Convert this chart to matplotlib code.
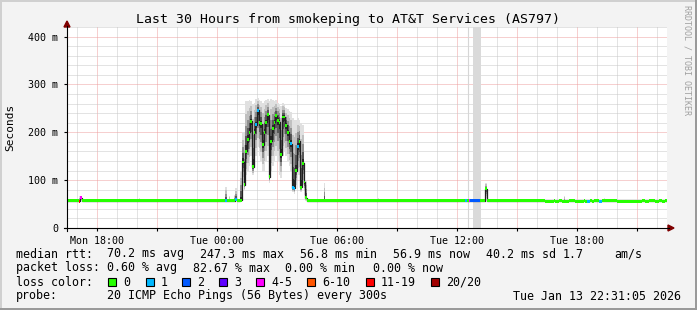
import numpy as np
import matplotlib.pyplot as plt
from matplotlib.patches import Rectangle, Polygon
from matplotlib.lines import Line2D

# hours counted from Mon 00:00, one sample every 300 s
T_START = 16.52
T_END = 46.52
STEP = 5 / 60

base_rtt = 57.0  # ms, quiet median

# congestion burst starting Tue 01:10 (one value per 5 min step)
burst_start = 25.17
burst_median = [58, 138, 90, 160, 185, 200, 223, 128, 200, 216,
                246, 221, 218, 174, 200, 221, 237, 107, 181, 208,
                221, 235, 225, 221, 153, 232, 232, 215, 200, 181,
                176, 84, 83, 120, 171, 181, 85, 135, 96, 63]
burst_lo = [56, 95, 80, 110, 120, 130, 150, 110, 140, 150,
            170, 150, 140, 120, 120, 140, 150, 95, 120, 130,
            140, 150, 140, 110, 105, 150, 160, 150, 140, 130,
            120, 75, 72, 90, 110, 110, 75, 90, 70, 57]
burst_hi = [120, 200, 200, 265, 265, 268, 265, 260, 262, 270,
            272, 268, 265, 262, 265, 268, 270, 265, 270, 268,
            265, 268, 262, 258, 255, 262, 260, 250, 248, 245,
            243, 230, 225, 225, 230, 225, 220, 215, 140, 100]
burst_loss = [0, 0, 0, 0, 0, 0, 0, 0, 0, 1,
              1, 0, 0, 0, 0, 0, 0, 0, 0, 0,
              0, 0, 0, 0, 0, 0, 0, 0, 0, 0,
              1, 1, 1, 0, 1, 0, 0, 0, 0, 0]

# isolated samples with loss or a raised median
event_hour = [17.12, 17.20, 24.42, 24.97, 36.47, 36.62, 36.72, 36.80,
              36.88, 36.97, 37.05, 37.13, 37.42]
event_median = [56, 63, 57, 60, 57, 57, 57, 57, 57, 57, 57, 57, 82]
event_lo = [56, 58, 57, 57, 57, 57, 57, 57, 57, 57, 57, 57, 62]
event_hi = [66, 66, 86, 83, 57, 57, 57, 57, 57, 57, 57, 57, 94]
event_loss = [6, 4, 1, 1, 1, 4, 2, 2, 2, 2, 2, 2, 0]

# light smoke ticks on the quiet baseline
tick_hour = [20.12, 21.27, 22.97, 24.57, 24.87, 29.32, 32.0, 33.62, 41.32, 43.37]
tick_hi = [62, 61, 60, 66, 70, 93, 62, 60, 67, 62]

# Tue afternoon/evening: median one notch lower
dip_from = [40.47, 40.97, 41.27, 41.97, 42.42, 42.52, 42.77, 43.07, 44.02, 45.42, 45.92, 46.27]
dip_to = [40.82, 41.07, 41.57, 42.32, 42.52, 42.72, 42.87, 43.27, 45.27, 45.57, 46.07, 46.47]
dip_loss = [0, 0, 0, 0, 0, 1, 0, 1, 0, 0, 0, 0]
dip_rtt = 55.5

loss_labels = ['0', '1', '2', '3', '4-5', '6-10', '11-19', '20/20']
loss_colors = ['#26ff00', '#00b8ff', '#0059ff', '#5e00ff', '#ff00ff', '#ff5500', '#ff0000', '#a10000']

y_ticks = [0, 100, 200, 300, 400]
y_labels = ['0', '100 m', '200 m', '300 m', '400 m']
x_ticks = [18, 21, 24, 27, 30, 33, 36, 39, 42, 45]
x_labels = ['Mon 18:00', '', 'Tue 00:00', '', 'Tue 06:00', '', 'Tue 12:00', '', 'Tue 18:00', '']

# ---- assemble the 5-minute series ----
n = int(round((T_END - T_START) / STEP))
t = T_START + np.arange(n) * STEP
med = np.full(n, base_rtt)
lo = np.full(n, base_rtt)
hi = np.full(n, base_rtt)
loss = np.zeros(n, dtype=int)

def idx(h):
    return int(round((h - T_START) / STEP))

for a, b, l in zip(dip_from, dip_to, dip_loss):
    med[idx(a):idx(b)] = dip_rtt if l == 0 else 56
    loss[idx(a):idx(b)] = l
for h, v in zip(tick_hour, tick_hi):
    hi[idx(h)] = v
for h, m, a, b, l in zip(event_hour, event_median, event_lo, event_hi, event_loss):
    i = idx(h)
    med[i], lo[i], hi[i], loss[i] = m, a, b, l
i0 = idx(burst_start)
for k in range(len(burst_median)):
    med[i0 + k] = burst_median[k]
    lo[i0 + k] = burst_lo[k]
    hi[i0 + k] = burst_hi[k]
    loss[i0 + k] = burst_loss[k]


def fx(px):
    return px / 697

def fy(py):
    return 1 - py / 310


mono = 'DejaVu Sans Mono'
fig = plt.figure(figsize=(6.97, 3.10), dpi=100, facecolor='#f3f3f3')

# 3d-ish frame
fig.patches.append(Rectangle((0, fy(2)), 1, 2 / 310, transform=fig.transFigure, color='#d0d0d0', lw=0))
fig.patches.append(Rectangle((0, 0), 2 / 697, 1, transform=fig.transFigure, color='#d0d0d0', lw=0))
fig.patches.append(Rectangle((0, 0), 1, 2 / 310, transform=fig.transFigure, color='#9a9a9a', lw=0))
fig.patches.append(Rectangle((fx(695), 0), 2 / 697, 1, transform=fig.transFigure, color='#9a9a9a', lw=0))

ax = fig.add_axes([fx(67), fy(228), 600 / 697, 201 / 310])
ax.set_facecolor('white')
ax.set_xlim(T_START, T_END)
ax.set_ylim(0, 420)
for s in ax.spines.values():
    s.set_visible(False)

# grid
hours = np.arange(17, 47)
minor_h = [h for h in hours if h % 3]
major_h = [h for h in hours if h % 3 == 0]
ax.vlines(minor_h, 0, 420, colors='#c8c8c8', linestyles=(0, (1, 1)), lw=0.72, zorder=1)
ax.vlines(major_h, 0, 420, colors='#eea0a0', linestyles=(0, (1, 1)), lw=0.72, zorder=1)
ys = np.arange(20, 421, 20)
ax.hlines([y for y in ys if y % 100], T_START, T_END, colors='#c8c8c8', linestyles=(0, (1, 1)), lw=0.72, zorder=1)
ax.hlines([y for y in ys if y % 100 == 0], T_START, T_END, colors='#eea0a0', linestyles=(0, (1, 1)), lw=0.72, zorder=1)

# odd grey band around noon
ax.axvspan(36.82, 37.22, color='#dadada', lw=0, zorder=2)
ax.axvline(36.57, color='#d6d6d6', lw=0.8, zorder=2)

# smoke, outer layers light, inner dark
fracs = [0.0, 0.25, 0.5, 0.7, 0.88]
greys = ['#e0e0e0', '#c0c0c0', '#909090', '#585858', '#282828']
for f, g in zip(fracs, greys):
    l = lo + (med - lo) * f
    u = hi - (hi - med) * f
    ax.bar(t, u - l, bottom=l, width=STEP, align='edge', color=g, lw=0,
           antialiased=False, zorder=3)

# median line
ax.step(np.append(t, T_END), np.append(med, med[-1]), where='post',
        color='#202020', lw=0.9, zorder=4)

# median marks coloured by loss
ax.bar(t, 6.0, bottom=med - 3.0, width=STEP, align='edge',
       color=[loss_colors[k] for k in loss], lw=0, antialiased=False, zorder=5)

ax.set_yticks(y_ticks)
ax.set_yticklabels(y_labels, fontfamily=mono, fontsize=7.2)
ax.set_xticks(x_ticks)
ax.set_xticklabels(x_labels, fontfamily=mono, fontsize=7.2)
ax.tick_params(axis='both', length=2.5, width=0.8, color='black', pad=3)
ax.tick_params(axis='y', pad=4)

# axes with arrows
fig.add_artist(Line2D([fx(67), fx(67)], [fy(231), fy(26)], color='black', lw=0.8))
fig.add_artist(Line2D([fx(64), fx(669)], [fy(228), fy(228)], color='black', lw=0.8))
fig.patches.append(Polygon([(fx(64), fy(27)), (fx(70), fy(27)), (fx(67), fy(21))],
                           closed=True, transform=fig.transFigure, color='#7f0000'))
fig.patches.append(Polygon([(fx(668), fy(225)), (fx(668), fy(231)), (fx(674), fy(228))],
                           closed=True, transform=fig.transFigure, color='#7f0000'))

fig.text(fx(347.5), fy(19), 'Last 30 Hours from smokeping to AT&T Services (AS797)',
         ha='center', va='center', fontfamily=mono, fontsize=9.5)
fig.text(fx(10), fy(127), 'Seconds', rotation=90, ha='center', va='center',
         fontfamily=mono, fontsize=8)
fig.text(fx(687), fy(5), 'RRDTOOL / TOBI OETIKER', rotation=270, ha='center', va='top',
         fontfamily=mono, fontsize=6, color='#a0a0a0')

# legend block
leg_size = 8.4
rows = [
    (254, [(16, 'median rtt:'), (107, '70.2 ms avg'), (200, '247.3 ms max'), (300, '56.8 ms min'),
           (393, '56.9 ms now'), (486, '40.2 ms sd'), (563, '1.7'), (614, 'am/s')]),
    (268, [(16, 'packet loss:'), (107, '0.60 % avg'), (193, '82.67 % max'), (285, '0.00 % min'),
           (373, '0.00 % now')]),
    (296, [(16, 'probe:'), (107, '20 ICMP Echo Pings (56 Bytes) every 300s'),
           (513, 'Tue Jan 13 22:31:05 2026')]),
]
for y, items in rows:
    for x, s in items:
        fig.text(fx(x), fy(y), s, ha='left', va='center', fontfamily=mono, fontsize=leg_size)

fig.text(fx(16), fy(282), 'loss color:', ha='left', va='center', fontfamily=mono, fontsize=leg_size)
box_x = [108, 146, 182, 219, 256, 307, 366, 431]
for bx, lab, col in zip(box_x, loss_labels, loss_colors):
    fig.patches.append(Rectangle((fx(bx), fy(286)), 8 / 697, 8 / 310, transform=fig.transFigure,
                                 facecolor=col, edgecolor='black', lw=0.8))
    fig.text(fx(bx + 15), fy(282), lab, ha='left', va='center', fontfamily=mono, fontsize=leg_size)

fig.savefig('out.png', dpi=100, facecolor=fig.get_facecolor())
